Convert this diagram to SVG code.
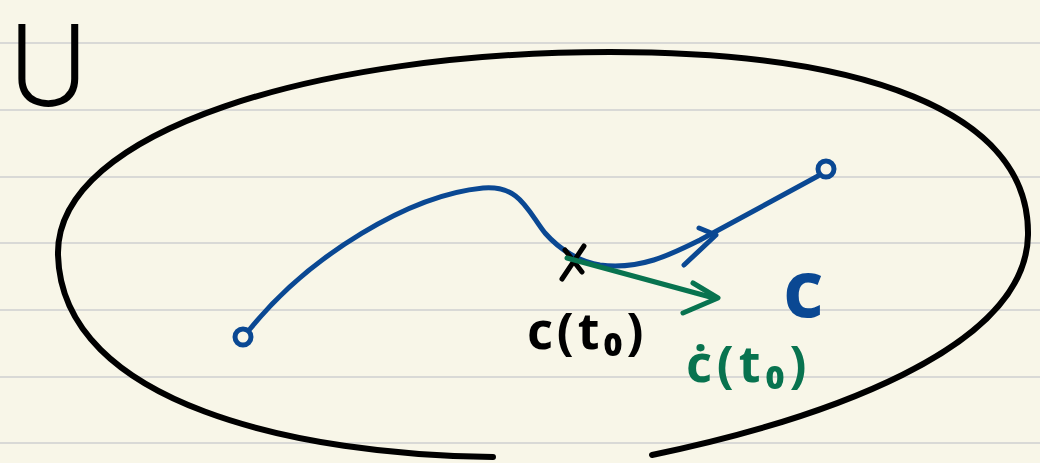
<svg xmlns="http://www.w3.org/2000/svg" width="1040" height="463" viewBox="0 0 1040 463">
  <style>
    .rule { stroke: #d9d9d6; stroke-width: 2; }
    .ink { fill: none; stroke-linecap: round; stroke-linejoin: round; }
    .black { stroke: #000000; }
    .blue { stroke: #0a4893; }
    .green { stroke: #08734f; }
    .lbl { font-family: "Noto Sans", "Liberation Sans", sans-serif; font-weight: bold; }
  </style>
  <rect x="0" y="0" width="1040" height="463" fill="#f8f6e8"/>
  <g id="paper-lines">
    <line class="rule" x1="0" y1="43" x2="1040" y2="43"/>
    <line class="rule" x1="0" y1="110" x2="1040" y2="110"/>
    <line class="rule" x1="0" y1="177" x2="1040" y2="177"/>
    <line class="rule" x1="0" y1="243" x2="1040" y2="243"/>
    <line class="rule" x1="0" y1="310" x2="1040" y2="310"/>
    <line class="rule" x1="0" y1="377" x2="1040" y2="377"/>
    <line class="rule" x1="0" y1="443" x2="1040" y2="443"/>
  </g>
  <g id="set-U">
    <path class="ink black" stroke-width="6" d="M493,457 C 300,455 62,405 58,255 C 55,130 320,52 610,52 C 860,52 1030,110 1028,235 C 1026,350 820,420 652,455"/>
    <text transform="translate(10,104) scale(1.15,1.1)" x="0" y="0" font-family="Roboto, 'DejaVu Sans', sans-serif" font-weight="100" font-size="100" fill="#000" stroke="#000" stroke-width="3.5">U</text>
  </g>
  <g id="curve-c">
    <circle class="ink blue" stroke-width="5" cx="243" cy="337" r="8"/>
    <path class="ink blue" stroke-width="5" d="M250,329 C 310,255 410,195 483,188 C 520,185 527,210 545,233 C 560,250 580,262 600,265 C 640,270 670,255 700,240 L 818,176"/>
    <circle class="ink blue" stroke-width="5" cx="826" cy="169" r="8"/>
    <polyline class="ink blue" stroke-width="5" points="699,228 716,235 684,265"/>
    <text class="lbl" x="783" y="317" font-size="78" fill="#0a4893">c</text>
  </g>
  <g id="point-c-t0">
    <line class="ink black" stroke-width="5" x1="584" y1="246" x2="562" y2="279"/>
    <line class="ink black" stroke-width="5" x1="565" y1="250" x2="582" y2="272"/>
    <text class="lbl" x="527" y="349" font-size="50" fill="#000" letter-spacing="4">c(t₀)</text>
  </g>
  <g id="tangent">
    <line class="ink green" stroke-width="5" x1="567" y1="258" x2="714" y2="298"/>
    <polyline class="ink green" stroke-width="5" points="693,283 718,298 683,313"/>
    <text class="lbl" x="686" y="382" font-size="50" fill="#08734f" letter-spacing="5">ċ(t₀)</text>
  </g>
</svg>
